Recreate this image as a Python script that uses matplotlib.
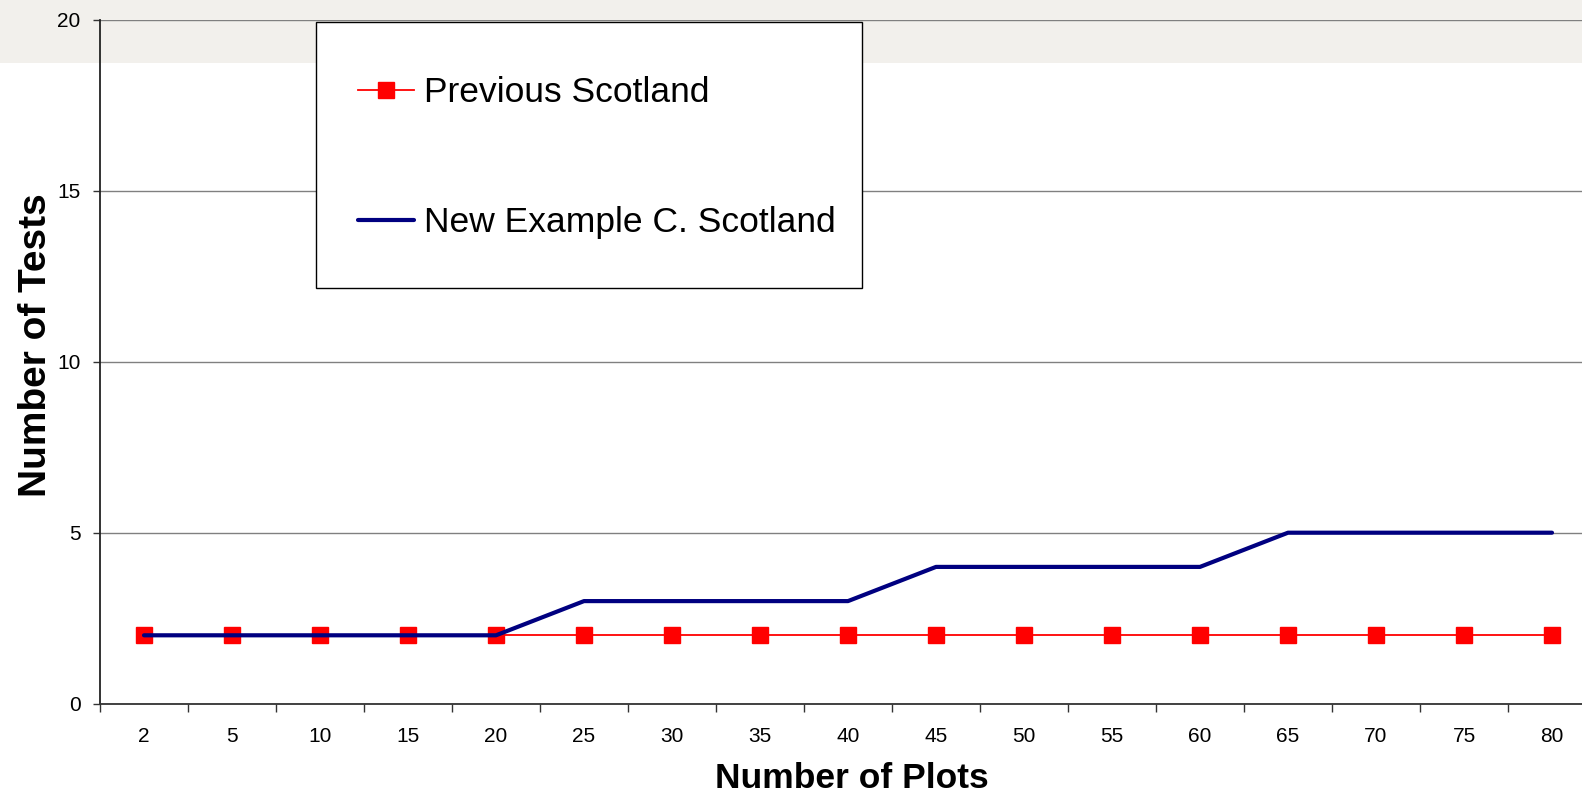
import matplotlib.pyplot as plt
from matplotlib.patches import Rectangle

# Chart data
plot_counts = ["2", "5", "10", "15", "20", "25", "30", "35", "40",
               "45", "50", "55", "60", "65", "70", "75", "80"]
previous_scotland = [2, 2, 2, 2, 2, 2, 2, 2, 2, 2, 2, 2, 2, 2, 2, 2, 2]
new_example_c = [2, 2, 2, 2, 2, 3, 3, 3, 3, 4, 4, 4, 4, 5, 5, 5, 5]
y_ticks = [0, 5, 10, 15, 20]

plt.rcParams['font.family'] = ['Liberation Sans', 'DejaVu Sans']

W, H = 1582, 797
fig = plt.figure(figsize=(W / 100, H / 100), dpi=100)

# light grey band across the top (slide background)
fig.patches.append(Rectangle((0, 1 - 63 / H), 1, 63 / H, transform=fig.transFigure,
                             facecolor="#f2f0ec", edgecolor="none", zorder=-5))

ax_w, ax_h = 17 * 88, 703.7 - 19.7
ax = fig.add_axes([100 / W, 1 - 703.7 / H, ax_w / W, ax_h / H])
ax.set_facecolor("none")

x = list(range(len(plot_counts)))
ax.plot(x, previous_scotland, color="red", linewidth=1.3, marker="s",
        markersize=12, markeredgecolor="red", label="Previous Scotland", zorder=3)
ax.plot(x, new_example_c, color="#000080", linewidth=3,
        solid_capstyle="round", label="New Example C. Scotland", zorder=4)

ax.set_xlim(-0.5, len(plot_counts) - 0.5)
ax.set_ylim(0, 20)

# category boundaries as major ticks, labels on minor ticks at the centres
ax.set_xticks([i - 0.5 for i in range(len(plot_counts) + 1)])
ax.set_xticklabels([])
ax.set_xticks(x, minor=True)
ax.set_xticklabels(plot_counts, minor=True)
ax.tick_params(axis="x", which="major", length=6, width=1, color="#333333", direction="out")
ax.tick_params(axis="x", which="minor", length=0, pad=17, labelsize=15)

ax.set_yticks(y_ticks)
ax.tick_params(axis="y", length=5, width=1, color="#333333", pad=9, labelsize=15)

ax.yaxis.grid(True, color="#808080", linewidth=1)
ax.set_axisbelow(True)

for side in ["top", "right"]:
    ax.spines[side].set_visible(False)
ax.spines["left"].set_color("#222222")
ax.spines["left"].set_linewidth(1.3)
ax.spines["bottom"].set_color("#333333")
ax.spines["bottom"].set_linewidth(1.3)

ax.set_xlabel("Number of Plots", fontsize=25.5, fontweight="bold")
ax.xaxis.set_label_coords((852 - 100) / ax_w, -(778 - 703.7) / ax_h)
ax.set_ylabel("Number of Tests", fontsize=28, fontweight="bold")
ax.yaxis.set_label_coords(-(100 - 36) / ax_w, (703.7 - 345) / ax_h)
ax.xaxis.label.set_verticalalignment("center")
ax.yaxis.label.set_verticalalignment("center")

# legend box drawn separately so its size matches the original
fig.patches.append(Rectangle((316 / W, 1 - 288 / H), (862 - 316) / W, (288 - 22) / H,
                             transform=fig.transFigure, facecolor="white",
                             edgecolor="black", linewidth=1, zorder=5))
leg = fig.legend(loc="upper left", bbox_to_anchor=(358 / W, 1 - 76 / H),
                 borderaxespad=0, borderpad=0, fontsize=25.5,
                 labelspacing=2.74, handlelength=1.57, handletextpad=0.3,
                 frameon=False)
leg.set_zorder(6)

fig.savefig("out.png", dpi=100)
